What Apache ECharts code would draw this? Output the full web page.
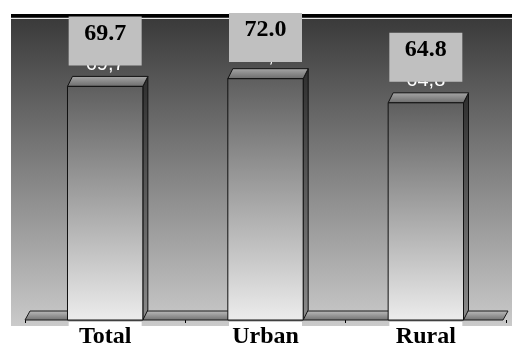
<!DOCTYPE html>
<html>
<head>
<meta charset="utf-8">
<script src="https://cdn.jsdelivr.net/npm/echarts@6/dist/echarts.min.js"></script>
<style>
  html, body { margin: 0; padding: 0; background: #fff; }
  #chart { width: 512px; height: 345px; }
</style>
</head>
<body>
<div id="chart"></div>
<script>
// Population share by area of residence
const categories = ['Total', 'Urban', 'Rural'];
const values = [69.7, 72.0, 64.8];

const chart = echarts.init(document.getElementById('chart'), null, { renderer: 'canvas' });

const DX = 5, DY = 10;           // 3D depth offset
const SERIF = '"Liberation Serif", "Times New Roman", serif';

function vGrad(c0, c1) {
  return new echarts.graphic.LinearGradient(0, 0, 0, 1, [
    { offset: 0, color: c0 }, { offset: 1, color: c1 }
  ]);
}

function renderBar(params, api) {
  const cat = api.value(0);
  const v = api.value(1);
  const top = api.coord([cat, v]);
  const base = api.coord([cat, 0]);
  const bw = api.size([1, 0])[0] * 0.47;
  const x0 = top[0] - bw / 2, x1 = top[0] + bw / 2;
  const yt = top[1], yb = base[1];
  const gridTop = params.coordSys.y;
  const boxW = 73, boxH = 49;
  const boxTop = Math.max(yt - 70, gridTop - 1);
  return {
    type: 'group',
    children: [
      { // side face
        type: 'polygon',
        shape: { points: [[x1, yt], [x1 + DX, yt - DY], [x1 + DX, yb - DY], [x1, yb]] },
        style: { fill: vGrad('#2e2e2e', '#8a8a8a'), stroke: '#111', lineWidth: 1 }
      },
      { // top face
        type: 'polygon',
        shape: { points: [[x0, yt], [x0 + DX, yt - DY], [x1 + DX, yt - DY], [x1, yt]] },
        style: { fill: vGrad('#a8a8a8', '#6a6a6a'), stroke: '#111', lineWidth: 1 }
      },
      { // front face
        type: 'rect',
        shape: { x: x0, y: yt, width: bw, height: yb - yt },
        style: { fill: vGrad('#5e5e5e', '#ececec'), stroke: '#111', lineWidth: 1 }
      },
      { // value as printed on the bar
        type: 'text',
        style: {
          text: v.toFixed(1).replace('.', ','),
          x: top[0], y: yt - 12,
          align: 'center', verticalAlign: 'bottom',
          font: '20px "Liberation Sans", Arial, sans-serif',
          fill: '#ffffff'
        }
      },
      { // value callout box
        type: 'rect',
        shape: { x: top[0] - boxW / 2, y: boxTop, width: boxW, height: boxH },
        style: { fill: '#c0c0c0' }
      },
      {
        type: 'text',
        style: {
          text: v.toFixed(1),
          x: top[0], y: boxTop + 5,
          align: 'center', verticalAlign: 'top',
          font: 'bold 24px ' + SERIF,
          fill: '#000'
        }
      }
    ]
  };
}

function renderFloor(params, api) {
  const cs = params.coordSys;
  const x = cs.x, w = cs.width, yb = cs.y + cs.height;
  return {
    type: 'group',
    children: [
      {
        type: 'polygon',
        shape: { points: [[x, yb], [x + 5, yb - 9], [x + w + 2, yb - 9], [x + w - 3, yb]] },
        style: { fill: vGrad('#bdbdbd', '#707070'), stroke: '#1a1a1a', lineWidth: 1 }
      }
    ]
  };
}

const option = {
  animation: false,
  backgroundColor: '#ffffff',
  graphic: [
    {
      type: 'rect', z: -10, silent: true,
      shape: { x: 11, y: 14, width: 501, height: 312 },
      style: { fill: vGrad('#383838', '#cacaca') }
    },
    {
      type: 'rect', z: -9, silent: true,
      shape: { x: 11, y: 14, width: 501, height: 3 },
      style: { fill: '#000' }
    },
    {
      type: 'rect', z: -9, silent: true,
      shape: { x: 11, y: 18, width: 501, height: 1 },
      style: { fill: '#e8e8e8' }
    }
  ],
  grid: { left: 25, right: 6, top: 14, bottom: 25, outerBoundsMode: 'none', containLabel: false },
  xAxis: {
    type: 'category',
    data: categories,
    boundaryGap: true,
    axisLine: { show: false },
    axisTick: { show: true, length: 3, lineStyle: { color: '#000' } },
    axisLabel: {
      margin: 2,
      color: '#000',
      fontFamily: SERIF,
      fontWeight: 'bold',
      fontSize: 24,
      backgroundColor: '#ffffff',
      width: 73,
      align: 'center',
      padding: [3, 0, 12, 0]
    },
    splitLine: { show: false }
  },
  yAxis: {
    type: 'value',
    min: 0,
    max: 91.3,
    show: false,
    splitLine: { show: false }
  },
  series: [
    {
      type: 'custom',
      z: 1,
      renderItem: renderFloor,
      data: [[0, 0]],
      silent: true
    },
    {
      type: 'custom',
      z: 2,
      renderItem: renderBar,
      encode: { x: 0, y: 1 },
      data: categories.map((c, i) => [i, values[i]])
    }
  ]
};

chart.setOption(option);
</script>
</body>
</html>
